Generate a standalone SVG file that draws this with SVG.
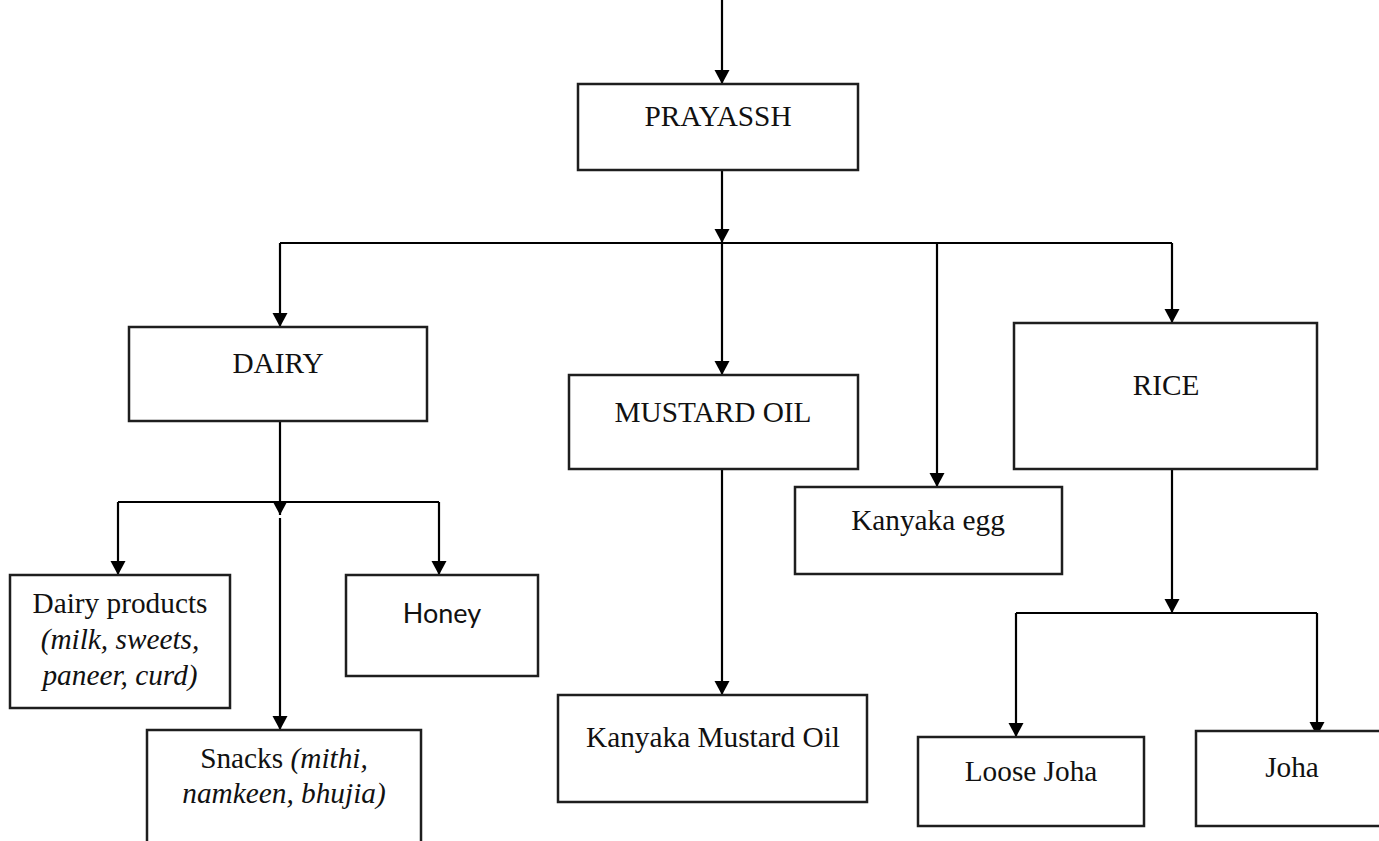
<svg xmlns="http://www.w3.org/2000/svg" width="1379" height="841" viewBox="0 0 1379 841">
  <style>
    .box { fill: #ffffff; stroke: #1e1e1e; stroke-width: 2.5; }
    .lbl { font-family: "Liberation Serif", "Times New Roman", serif; font-size: 29.3px; fill: #111111; text-anchor: middle; }
    .sans { font-family: Lato, "Open Sans", "Liberation Sans", sans-serif; font-size: 27px; fill: #111111; text-anchor: middle; }
    .it { font-style: italic; }
    .wire { fill: none; stroke: #000000; stroke-width: 2.2; }
    .arrow { fill: none; stroke: #000000; stroke-width: 2.2; marker-end: url(#head); }
  </style>
  <defs>
    <marker id="head" markerUnits="userSpaceOnUse" markerWidth="15" markerHeight="16" refX="14" refY="7.5" orient="auto">
      <path d="M0,0 L14,7.5 L0,15 Z" fill="#000000"/>
    </marker>
  </defs>

  <rect width="1379" height="841" fill="#ffffff"/>

  <g id="connectors">
    <path class="arrow" d="M722,0 V84"/>
    <path class="arrow" d="M722,170 V243"/>
    <path class="wire" d="M280,243 H1172"/>
    <path class="arrow" d="M280,243 V327"/>
    <path class="arrow" d="M722,243 V375"/>
    <path class="arrow" d="M937,243 V487"/>
    <path class="arrow" d="M1172,243 V323"/>
    <path class="arrow" d="M280,421 V515"/>
    <path class="wire" d="M118,502 H439"/>
    <path class="arrow" d="M118,502 V575"/>
    <path class="arrow" d="M439,502 V575"/>
    <path class="arrow" d="M280,518 V730"/>
    <path class="arrow" d="M722,469 V695"/>
    <path class="arrow" d="M1172,469 V613"/>
    <path class="wire" d="M1016,613 H1317"/>
    <path class="arrow" d="M1016,613 V737"/>
    <path class="arrow" d="M1317,613 V736"/>
  </g>

  <g id="prayassh">
    <rect class="box" x="578" y="84" width="280" height="86"/>
    <text class="lbl" x="718" y="126">PRAYASSH</text>
  </g>

  <g id="dairy">
    <rect class="box" x="129" y="327" width="298" height="94"/>
    <text class="lbl" x="278" y="373">DAIRY</text>
  </g>

  <g id="mustard-oil">
    <rect class="box" x="569" y="375" width="289" height="94"/>
    <text class="lbl" x="713" y="422">MUSTARD OIL</text>
  </g>

  <g id="kanyaka-egg">
    <rect class="box" x="795" y="487" width="267" height="87"/>
    <text class="lbl" x="928" y="530">Kanyaka egg</text>
  </g>

  <g id="rice">
    <rect class="box" x="1014" y="323" width="303" height="146"/>
    <text class="lbl" x="1166" y="395">RICE</text>
  </g>

  <g id="dairy-products">
    <rect class="box" x="10" y="575" width="220" height="133"/>
    <text class="lbl" x="120" y="613">Dairy products</text>
    <text class="lbl it" x="120" y="649">(milk, sweets,</text>
    <text class="lbl it" x="120" y="685">paneer, curd)</text>
  </g>

  <g id="honey">
    <rect class="box" x="346" y="575" width="192" height="101"/>
    <text class="sans" x="442" y="623">Honey</text>
  </g>

  <g id="snacks">
    <rect class="box" x="147" y="730" width="274" height="130"/>
    <text class="lbl" x="284" y="768">Snacks <tspan class="it">(mithi,</tspan></text>
    <text class="lbl it" x="284" y="803">namkeen, bhujia)</text>
  </g>

  <g id="kanyaka-mustard-oil">
    <rect class="box" x="558" y="695" width="309" height="107"/>
    <text class="lbl" x="713" y="747">Kanyaka Mustard Oil</text>
  </g>

  <g id="loose-joha">
    <rect class="box" x="918" y="737" width="226" height="89"/>
    <text class="lbl" x="1031" y="781">Loose Joha</text>
  </g>

  <g id="joha">
    <rect class="box" x="1196" y="731" width="192" height="95"/>
    <text class="lbl" x="1292" y="777">Joha</text>
  </g>
</svg>
